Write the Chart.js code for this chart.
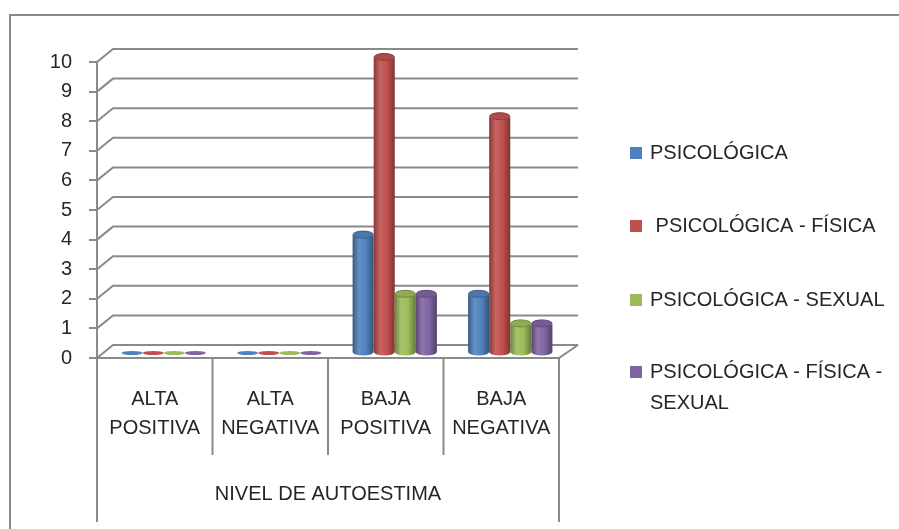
<!DOCTYPE html>
<html>
<head>
<meta charset="utf-8">
<script src="https://cdn.jsdelivr.net/npm/chart.js@4.4.0/dist/chart.umd.min.js"></script>
<style>
  html, body { margin: 0; padding: 0; background: #fff; }
</style>
</head>
<body>
<canvas id="chart" width="899" height="529"></canvas>
<script>
  // datos
  var categories = [['ALTA', 'POSITIVA'], ['ALTA', 'NEGATIVA'], ['BAJA', 'POSITIVA'], ['BAJA', 'NEGATIVA']];
  var seriesNames = ['PSICOLÓGICA', ' PSICOLÓGICA - FÍSICA', 'PSICOLÓGICA - SEXUAL', 'PSICOLÓGICA - FÍSICA - SEXUAL'];
  var psicologica = [0, 0, 4, 2];
  var psicoFisica = [0, 0, 10, 8];
  var psicoSexual = [0, 0, 2, 1];
  var psicoFisicaSexual = [0, 0, 2, 1];
  var seriesColors = ['#4F81BD', '#C0504D', '#9BBB59', '#8064A2'];
  var yMin = 0, yMax = 10, yStep = 1;
  var axisTitle = 'NIVEL DE AUTOESTIMA';

  var FONT = 'Liberation Sans';
  var FSIZE = 20;
  var TEXT = '#262626';
  var LINE = '#8a8a8a';

  function shade(hex, amt) {
    var n = parseInt(hex.slice(1), 16);
    var r = n >> 16, g = (n >> 8) & 255, b = n & 255;
    var t = amt < 0 ? 0 : 255, p = Math.abs(amt);
    r = Math.round((t - r) * p + r); g = Math.round((t - g) * p + g); b = Math.round((t - b) * p + b);
    return 'rgb(' + r + ',' + g + ',' + b + ')';
  }

  function cylinder(ctx, cx, top, base, w, color) {
    var rx = w / 2, ry = 3.5;
    if (base - top < 0.5) {
      ctx.fillStyle = color;
      ctx.beginPath();
      ctx.ellipse(cx, base, rx, 2, 0, 0, Math.PI * 2);
      ctx.fill();
      return;
    }
    var g = ctx.createLinearGradient(cx - rx, 0, cx + rx, 0);
    g.addColorStop(0, shade(color, -0.3));
    g.addColorStop(0.3, shade(color, 0.12));
    g.addColorStop(0.65, color);
    g.addColorStop(1, shade(color, -0.35));
    ctx.fillStyle = g;
    ctx.beginPath();
    ctx.moveTo(cx - rx, top);
    ctx.lineTo(cx - rx, base);
    ctx.ellipse(cx, base, rx, ry, 0, Math.PI, 0, true);
    ctx.lineTo(cx + rx, top);
    ctx.ellipse(cx, top, rx, ry, 0, 0, Math.PI, false);
    ctx.closePath();
    ctx.fill();
    // tapa superior
    ctx.fillStyle = shade(color, -0.08);
    ctx.strokeStyle = shade(color, -0.3);
    ctx.lineWidth = 1;
    ctx.beginPath();
    ctx.ellipse(cx, top, rx - 0.5, ry, 0, 0, Math.PI * 2);
    ctx.fill();
    ctx.stroke();
  }

  var box3d = {
    id: 'box3d',
    beforeDatasetsDraw: function(chart) {
      var ctx = chart.ctx, a = chart.chartArea;
      var ys = chart.scales.y;
      var dl = 16, dr = 19, dy = -13;
      ctx.save();
      ctx.strokeStyle = LINE;
      ctx.lineWidth = 2;
      // pared del fondo
      for (var v = yMin; v <= yMax; v += yStep) {
        var py = ys.getPixelForValue(v);
        ctx.beginPath();
        ctx.moveTo(a.left, py);
        ctx.lineTo(a.left + dl, py + dy);
        ctx.lineTo(a.right + dr, py + dy);
        ctx.stroke();
      }
      // piso
      var p0 = ys.getPixelForValue(0);
      ctx.beginPath();
      ctx.moveTo(a.left, p0);
      ctx.lineTo(a.right, p0);
      ctx.lineTo(a.right + dr, p0 + dy);
      ctx.stroke();
      // eje vertical y divisiones de categorias
      var n = categories.length, cw = (a.right - a.left) / n;
      for (var i = 0; i <= n; i++) {
        var px = a.left + i * cw;
        ctx.beginPath();
        ctx.moveTo(px, i === 0 ? a.top : p0);
        ctx.lineTo(px, (i === 0 || i === n) ? 522 : 455);
        ctx.stroke();
      }
      // marco
      ctx.beginPath();
      ctx.moveTo(10, 529);
      ctx.lineTo(10, 15);
      ctx.lineTo(899, 15);
      ctx.stroke();

      // cilindros
      var bx = 9, by = -5;
      chart.data.datasets.forEach(function(ds, di) {
        var meta = chart.getDatasetMeta(di);
        meta.data.forEach(function(el) {
          cylinder(ctx, el.x + bx, el.y + by, el.base + by, el.width, ds.backgroundColor);
        });
      });
      ctx.restore();
      return false;
    },
    afterDraw: function(chart) {
      var ctx = chart.ctx;
      ctx.save();
      ctx.font = FSIZE + 'px "' + FONT + '"';
      ctx.textBaseline = 'middle';
      var rowsY = [153, 226, 300, 372];
      chart.data.datasets.forEach(function(ds, di) {
        var y = rowsY[di];
        ctx.fillStyle = ds.backgroundColor;
        ctx.fillRect(630, y - 6, 12, 12);
        ctx.fillStyle = TEXT;
        var lines = [ds.label];
        if (ctx.measureText(ds.label).width > 245) {
          var words = ds.label.split(' '), line = '';
          lines = [];
          words.forEach(function(w) {
            var t = line ? line + ' ' + w : w;
            if (ctx.measureText(t).width > 245 && line) { lines.push(line); line = w; } else line = t;
          });
          lines.push(line);
        }
        lines.forEach(function(l, li) { ctx.fillText(l, 650, y + li * 31); });
      });
      ctx.restore();
    }
  };

  var datasets = [psicologica, psicoFisica, psicoSexual, psicoFisicaSexual].map(function(d, i) {
    return { label: seriesNames[i], data: d, backgroundColor: seriesColors[i], borderWidth: 0 };
  });

  new Chart(document.getElementById('chart'), {
    type: 'bar',
    data: { labels: categories, datasets: datasets },
    plugins: [box3d],
    options: {
      responsive: false,
      animation: false,
      categoryPercentage: 0.73,
      barPercentage: 1,
      layout: { padding: { left: 0, top: 62, right: 340, bottom: 0 } },
      plugins: { legend: { display: false }, tooltip: { enabled: false } },
      scales: {
        x: {
          grid: { display: false, drawTicks: false },
          border: { display: false },
          ticks: { font: { family: FONT, size: FSIZE, lineHeight: 1.45 }, color: TEXT, padding: 27, maxRotation: 0, autoSkip: false },
          title: { display: true, text: axisTitle, color: TEXT, font: { family: FONT, size: FSIZE }, padding: { top: 0, bottom: 23 } },
          afterFit: function(s) { s.height = 171; }
        },
        y: {
          min: yMin, max: yMax,
          ticks: { stepSize: yStep, font: { family: FONT, size: FSIZE }, color: TEXT, padding: 17 },
          grid: { drawOnChartArea: false, drawTicks: true, tickLength: 8, color: LINE, lineWidth: 2 },
          border: { display: false },
          afterFit: function(s) { s.width = 97; }
        }
      }
    }
  });
</script>
</body>
</html>
